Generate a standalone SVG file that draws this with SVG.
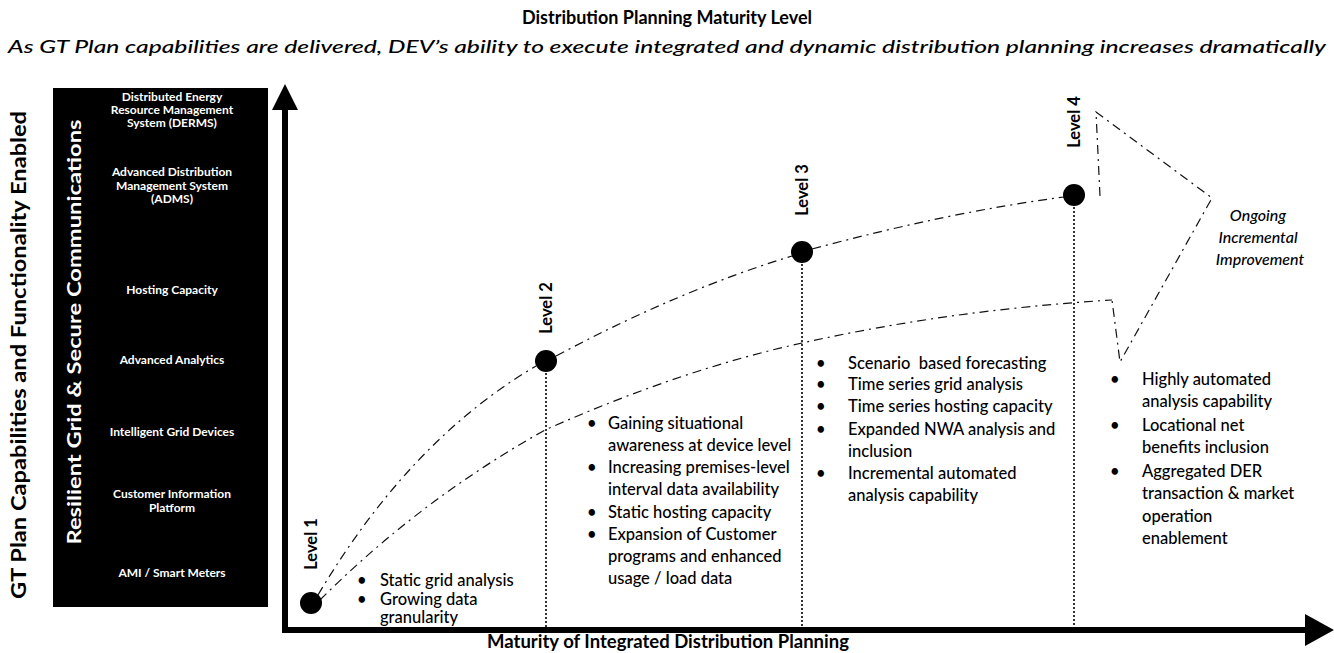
<svg xmlns="http://www.w3.org/2000/svg" width="1334" height="653" viewBox="0 0 1334 653">
  <defs>
    <style>
      text { font-family: Lato, "Open Sans", "Liberation Sans", sans-serif; fill: #000; }
      .title { font-size: 18px; font-weight: bold; text-anchor: middle; }
      .sub { font-size: 17px; font-style: italic; font-weight: 500; text-anchor: middle; }
      .cap { font-size: 12px; font-weight: bold; fill: #fff; text-anchor: middle; }
      .band { font-size: 19px; font-weight: bold; fill: #fff; text-anchor: middle; }
      .axis-label { font-size: 18.5px; font-weight: bold; text-anchor: middle; }
      .axis-label.v { font-size: 21px; }
      .level { font-size: 16.5px; font-weight: bold; text-anchor: middle; }
      .item { font-size: 16.5px; font-weight: 500; white-space: pre; }
      .note { font-size: 16px; font-style: italic; font-weight: 500; text-anchor: middle; }
      .trend { fill: none; stroke: #111; stroke-width: 1.2; stroke-dasharray: 9 5 2 5; }
      .drop { fill: none; stroke: #000; stroke-width: 1.6; stroke-dasharray: 2 2; }
      .dot { fill: #000; }
    </style>
  </defs>

  <!-- Heading -->
  <text class="title" x="667" y="24">Distribution Planning Maturity Level</text>
  <text class="sub" x="667" y="53" textLength="1318" lengthAdjust="spacingAndGlyphs">As GT Plan capabilities are delivered, DEV’s ability to execute integrated and dynamic distribution planning increases dramatically</text>

  <!-- Vertical axis title -->
  <text class="axis-label v" transform="translate(26,355) rotate(-90)" textLength="488" lengthAdjust="spacingAndGlyphs">GT Plan Capabilities and Functionality Enabled</text>

  <!-- Capability stack -->
  <g id="capability-stack">
    <rect x="53" y="88" width="215" height="519" fill="#000"/>
    <text class="band" transform="translate(81,332) rotate(-90)" textLength="425" lengthAdjust="spacingAndGlyphs">Resilient Grid &amp; Secure Communications</text>
    <text class="cap" x="172" y="101">Distributed Energy</text>
    <text class="cap" x="172" y="114">Resource Management</text>
    <text class="cap" x="172" y="127">System (DERMS)</text>
    <text class="cap" x="172" y="176">Advanced Distribution</text>
    <text class="cap" x="172" y="190">Management System</text>
    <text class="cap" x="172" y="203">(ADMS)</text>
    <text class="cap" x="172" y="294">Hosting Capacity</text>
    <text class="cap" x="172" y="364">Advanced Analytics</text>
    <text class="cap" x="172" y="436">Intelligent Grid Devices</text>
    <text class="cap" x="172" y="498">Customer Information</text>
    <text class="cap" x="172" y="512">Platform</text>
    <text class="cap" x="172" y="577">AMI / Smart Meters</text>
  </g>

  <!-- Axes -->
  <g id="axes">
    <rect x="282" y="104" width="6" height="529" fill="#000"/>
    <polygon points="272,110 285,84 298,110" fill="#000"/>
    <rect x="282" y="627" width="1026" height="6" fill="#000"/>
    <polygon points="1305,614 1334,630 1305,646" fill="#000"/>
  </g>
  <text class="axis-label" x="668" y="648">Maturity of Integrated Distribution Planning</text>

  <!-- Trend lines and improvement arrow -->
  <g id="connectors">
    <path class="trend" d="M318,595 Q410,440 536,366"/>
    <path class="trend" d="M556,356 Q680,290 792,256"/>
    <path class="trend" d="M812,249 Q950,212 1064,197"/>
    <path class="trend" d="M320,600 Q420,500 545,430 Q680,370 802,343 Q950,310 1112,300"/>
    <path class="trend" d="M1100,196 L1096,112 L1212,198 L1120,362 L1112,300"/>
    <line class="drop" x1="546" y1="361" x2="546" y2="627"/>
    <line class="drop" x1="802" y1="252" x2="802" y2="627"/>
    <line class="drop" x1="1074" y1="195" x2="1074" y2="627"/>
  </g>

  <!-- Level 1 -->
  <g id="level-1">
    <circle class="dot" cx="311" cy="603" r="11"/>
    <text class="level" transform="translate(317,544) rotate(-90)">Level 1</text>
    <text class="item" x="357" y="586">•</text>
    <text class="item" x="357" y="605">•</text>
    <text class="item" x="380" y="586">Static grid analysis</text>
    <text class="item" x="380" y="605">Growing data</text>
    <text class="item" x="380" y="623">granularity</text>
  </g>

  <!-- Level 2 -->
  <g id="level-2">
    <circle class="dot" cx="546" cy="361" r="11"/>
    <text class="level" transform="translate(552,308) rotate(-90)">Level 2</text>
    <text class="item" x="587" y="429">•</text>
    <text class="item" x="587" y="473">•</text>
    <text class="item" x="587" y="518">•</text>
    <text class="item" x="587" y="540">•</text>
    <text class="item" x="608" y="429">Gaining situational</text>
    <text class="item" x="608" y="451">awareness at device level</text>
    <text class="item" x="608" y="473">Increasing premises-level</text>
    <text class="item" x="608" y="495">interval data availability</text>
    <text class="item" x="608" y="518">Static hosting capacity</text>
    <text class="item" x="608" y="540">Expansion of Customer</text>
    <text class="item" x="608" y="562">programs and enhanced</text>
    <text class="item" x="608" y="584">usage / load data</text>
  </g>

  <!-- Level 3 -->
  <g id="level-3">
    <circle class="dot" cx="802" cy="252" r="11"/>
    <text class="level" transform="translate(808,190) rotate(-90)">Level 3</text>
    <text class="item" x="816" y="369">•</text>
    <text class="item" x="816" y="390">•</text>
    <text class="item" x="816" y="412">•</text>
    <text class="item" x="816" y="435">•</text>
    <text class="item" x="816" y="479">•</text>
    <text class="item" x="848" y="369">Scenario  based forecasting</text>
    <text class="item" x="848" y="390">Time series grid analysis</text>
    <text class="item" x="848" y="412">Time series hosting capacity</text>
    <text class="item" x="848" y="435">Expanded NWA analysis and</text>
    <text class="item" x="848" y="457">inclusion</text>
    <text class="item" x="848" y="479">Incremental automated</text>
    <text class="item" x="848" y="501">analysis capability</text>
  </g>

  <!-- Level 4 -->
  <g id="level-4">
    <circle class="dot" cx="1074" cy="195" r="11"/>
    <text class="level" transform="translate(1080,122) rotate(-90)">Level 4</text>
    <text class="item" x="1110" y="385">•</text>
    <text class="item" x="1110" y="431">•</text>
    <text class="item" x="1110" y="477">•</text>
    <text class="item" x="1142" y="385">Highly automated</text>
    <text class="item" x="1142" y="407">analysis capability</text>
    <text class="item" x="1142" y="431">Locational net</text>
    <text class="item" x="1142" y="453">benefits inclusion</text>
    <text class="item" x="1142" y="477">Aggregated DER</text>
    <text class="item" x="1142" y="499">transaction &amp; market</text>
    <text class="item" x="1142" y="522">operation</text>
    <text class="item" x="1142" y="544">enablement</text>
  </g>

  <!-- Improvement note -->
  <g id="ongoing-note">
    <text class="note" x="1258" y="221">Ongoing</text>
    <text class="note" x="1258" y="243">Incremental</text>
    <text class="note" x="1260" y="265">Improvement</text>
  </g>
</svg>
